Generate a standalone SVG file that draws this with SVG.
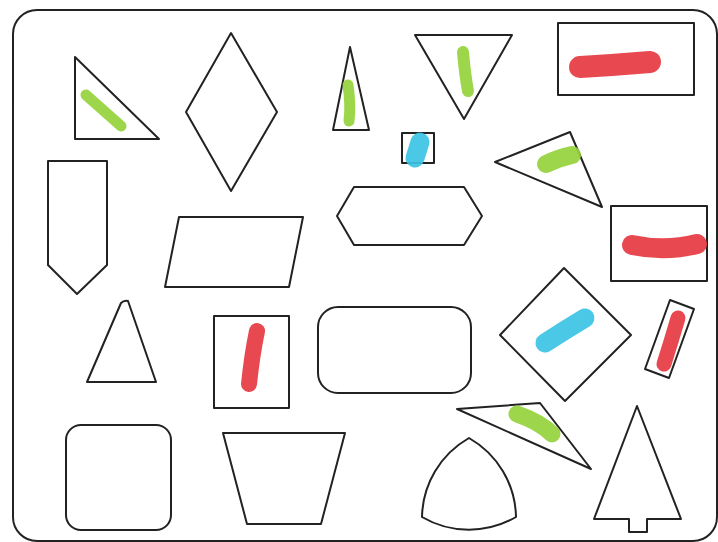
<svg xmlns="http://www.w3.org/2000/svg" width="718" height="542" viewBox="0 0 718 542">
<style>
.s{fill:none;stroke:#222;stroke-width:2;stroke-linejoin:round}
.g{fill:none;stroke:#95d23c;stroke-linecap:round;opacity:0.92}
.r{fill:none;stroke:#e63a42;stroke-linecap:round;opacity:0.92}
.b{fill:none;stroke:#3cc3e4;stroke-linecap:round;opacity:0.92}
</style>
<rect width="718" height="542" fill="#fff"/>
<rect id="board" class="s" x="13" y="10" width="704" height="531" rx="24"/>
<g id="tri1"><polygon class="s" points="75,57 75,139 159,139"/><path class="g" stroke-width="11" d="M86,95 L121,126"/></g>
<g id="diamond"><polygon class="s" points="231,33 277,112 231,191 186,112"/></g>
<g id="tri2"><polygon class="s" points="350,47 369,130 333,130"/><path class="g" stroke-width="11" d="M348,85 Q351,105 349,121"/></g>
<g id="tri3"><polygon class="s" points="415,35 512,35 464,119"/><path class="g" stroke-width="12" d="M463,52 Q465,75 468,91"/></g>
<g id="rect1"><rect class="s" x="558" y="23" width="136" height="72"/><path class="r" stroke-width="22" d="M580,67 Q615,65 650,62"/></g>
<g id="sq1"><rect class="s" x="402" y="133" width="32" height="30"/><path class="b" stroke-width="19" d="M420,142 Q417,152 415,158"/></g>
<g id="tri4"><polygon class="s" points="495,162 570,132 602,207"/><path class="g" stroke-width="18" d="M546,164 Q558,158 572,155"/></g>
<g id="rect2"><rect class="s" x="611" y="206" width="96" height="75"/><path class="r" stroke-width="20" d="M632,245 Q665,252 697,244"/></g>
<g id="pencil"><polygon class="s" points="48,161 107,161 107,265 77,294 48,265"/></g>
<g id="para"><polygon class="s" points="179,217 303,217 289,287 165,287"/></g>
<g id="hex"><polygon class="s" points="354,187 464,187 482,216 464,245 354,245 337,216"/></g>
<g id="tri5"><path class="s" d="M87,382 L121,303 Q124,300 128,301 L156,382 Z"/></g>
<g id="sq2"><rect class="s" x="214" y="316" width="75" height="92"/><path class="r" stroke-width="16" d="M257,331 Q252,355 249,384"/></g>
<g id="rrect"><rect class="s" x="318" y="307" width="153" height="86" rx="20"/></g>
<g id="rot1"><polygon class="s" points="564,268 631,335 565,401 500,335"/><path class="b" stroke-width="19" d="M545,343 Q565,330 585,318"/></g>
<g id="rot2"><polygon class="s" points="670,300 694,309 669,378 645,369"/><path class="r" stroke-width="15" d="M678,318 Q671,342 664,364"/></g>
<g id="tri6"><polygon class="s" points="457,409 540,403 591,469"/><path class="g" stroke-width="17" d="M517,414 Q540,422 552,434"/></g>
<g id="reuleaux"><path class="s" d="M469,438 A93,93 0 0 0 422,517 A93,93 0 0 0 516,517 A93,93 0 0 0 469,438 Z"/></g>
<g id="tree"><polygon class="s" points="637,406 681,519 647,519 647,532 629,532 629,519 594,519"/></g>
<g id="rsq"><rect class="s" x="66" y="425" width="105" height="105" rx="15"/></g>
<g id="trap"><polygon class="s" points="223,433 345,433 321,524 247,524"/></g>
</svg>
